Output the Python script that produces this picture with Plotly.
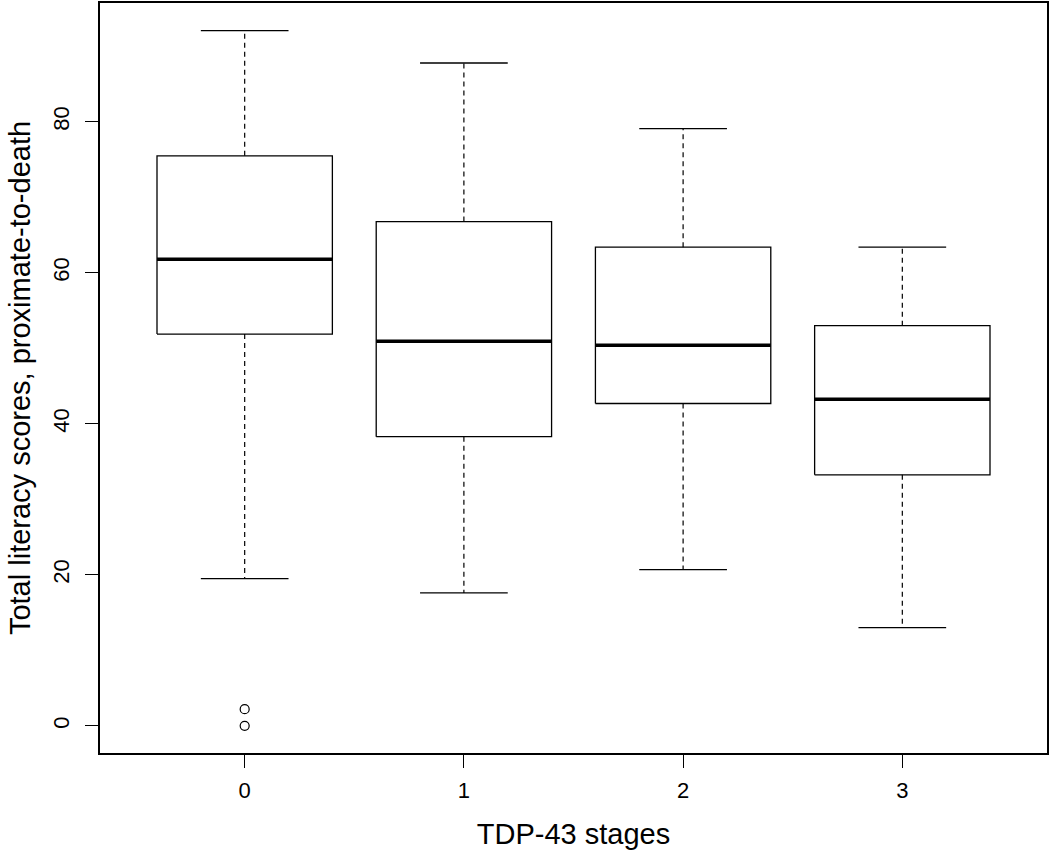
import plotly.graph_objects as go

# Data
stages = ["0", "1", "2", "3"]
upper_whisker = [92.1, 87.8, 79.1, 63.4]
q3 = [75.5, 66.8, 63.4, 53.0]
median = [61.8, 50.95, 50.4, 43.25]
q1 = [51.9, 38.3, 42.7, 33.25]
lower_whisker = [19.5, 17.6, 20.7, 13.0]
outlier_group = [0, 0]
outlier_values = [2.2, 0.0]

y_ticks = [0, 20, 40, 60, 80]

BOX_HALF = 0.4
CAP_HALF = 0.2
FONT = "Liberation Sans, Arial, Helvetica, sans-serif"

fig = go.Figure()
line_black = dict(color="black", width=1.3)

for i, s in enumerate(stages):
    # box
    fig.add_trace(go.Scatter(
        x=[i - BOX_HALF, i + BOX_HALF, i + BOX_HALF, i - BOX_HALF, i - BOX_HALF],
        y=[q1[i], q1[i], q3[i], q3[i], q1[i]],
        mode="lines", line=line_black, hoverinfo="skip", showlegend=False))
    # median
    fig.add_trace(go.Scatter(
        x=[i - BOX_HALF, i + BOX_HALF], y=[median[i], median[i]],
        mode="lines", line=dict(color="black", width=3.5), showlegend=False))
    # whiskers (dashed)
    fig.add_trace(go.Scatter(
        x=[i, i, None, i, i],
        y=[q3[i], upper_whisker[i], None, q1[i], lower_whisker[i]],
        mode="lines", line=dict(color="black", width=1.2, dash="5px,4px"),
        showlegend=False, hoverinfo="skip"))
    # caps
    fig.add_trace(go.Scatter(
        x=[i - CAP_HALF, i + CAP_HALF, None, i - CAP_HALF, i + CAP_HALF],
        y=[upper_whisker[i], upper_whisker[i], None, lower_whisker[i], lower_whisker[i]],
        mode="lines", line=line_black, showlegend=False, hoverinfo="skip"))

fig.add_trace(go.Scatter(
    x=outlier_group, y=outlier_values, mode="markers",
    marker=dict(symbol="circle-open", size=9, color="black", line=dict(width=1.2)),
    showlegend=False))

fig.update_layout(
    width=1050, height=854,
    margin=dict(l=100, r=1, t=1, b=101),
    paper_bgcolor="white", plot_bgcolor="white",
    font=dict(family=FONT, color="black", size=22),
    xaxis=dict(
        range=[-0.66, 3.66], tickmode="array",
        tickvals=list(range(len(stages))), ticktext=stages,
        showgrid=False, zeroline=False,
        showline=True, mirror=True, linecolor="black", linewidth=1.5,
        ticks="outside", ticklen=13, tickcolor="black", tickwidth=1.3,
        tickfont=dict(size=22), ticklabelstandoff=4,
        title=dict(text="TDP-43 stages", font=dict(size=29), standoff=22),
    ),
    yaxis=dict(
        range=[-3.6, 95.75], tickmode="array", tickvals=y_ticks,
        ticktext=[str(v) for v in y_ticks], tickangle=-90,
        showgrid=False, zeroline=False,
        showline=True, mirror=True, linecolor="black", linewidth=1.5,
        ticks="outside", ticklen=13, tickcolor="black", tickwidth=1.3,
        tickfont=dict(size=22), ticklabelstandoff=7,
        title=dict(text="Total literacy scores, proximate-to-death", font=dict(size=29), standoff=10),
    ),
)

fig.write_html("out.html", config={"displayModeBar": False},
               post_script="document.body.style.margin='0';")
